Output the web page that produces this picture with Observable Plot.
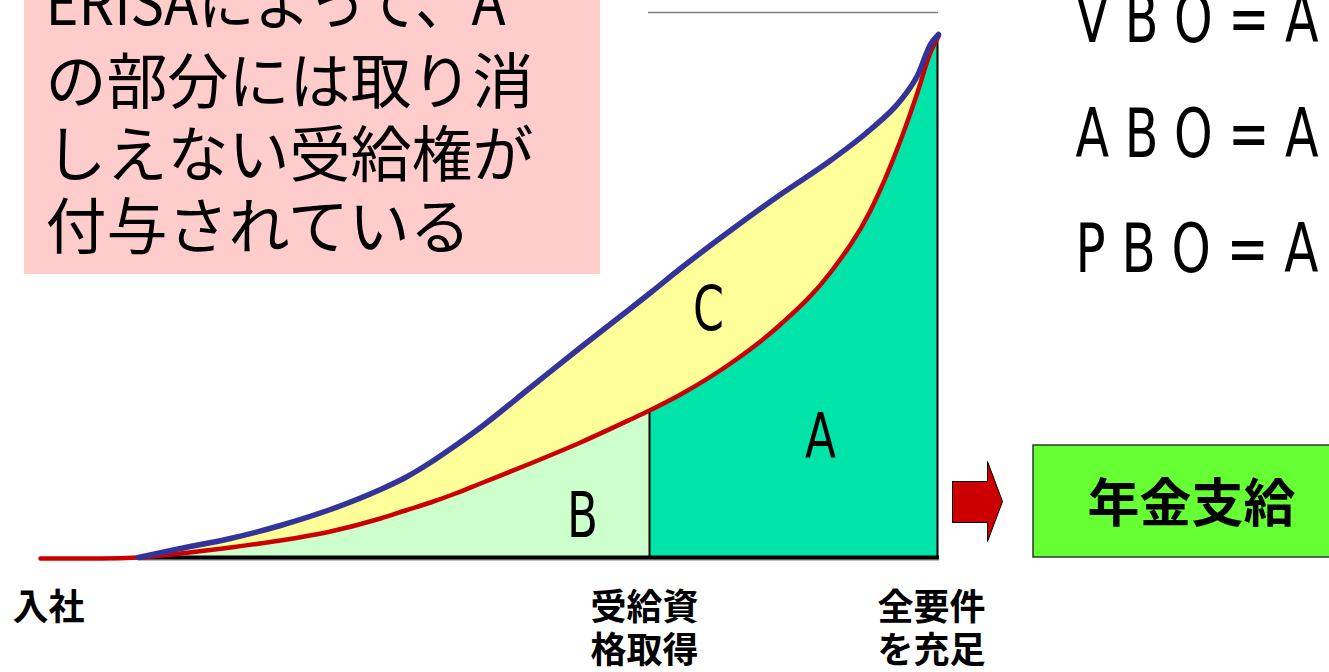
<!DOCTYPE html>
<html><head><meta charset="utf-8">
<script src="https://cdn.jsdelivr.net/npm/d3@7"></script>
<script src="https://cdn.jsdelivr.net/npm/@observablehq/plot@0.6"></script>
<style>html,body{margin:0;padding:0;background:#fff;overflow:hidden}</style>
</head><body><div id="chart"></div>
<script>
// Service timeline (horizontal position) and obligation curves (vertical position, measured downward on the page)
const serviceX = [138,180,230,280,330,380,405,430,455,480,530,580,630,649,680,730,780,830,870,900,917,930,938];
const pboY     = [557,548,538,525,509,489,477,462,445,427,387,347,308,293,268,230,194,160,129,100, 75, 44, 34];
const aboY     = [557,553,547,540,531,518,510,502,493,483,463,442,419,410,394,363,324,272,210,140, 92, 52, 36];
const baseline = 557;
const entryX = 40;        // 入社
const vestX = 649;        // 受給資格取得
const fullX = 937;        // 全要件を充足

const noteLines = ["ERISAによって、A", "の部分には取り消", "しえない受給権が", "付与されている"];
const noteLineY = [5, 84, 157, 229];
const formulas = ["V B O = A", "A B O = A", "P B O = A"];
const formulaY = [20, 135, 250];
const areaLabels = ["A", "B", "C"];
const areaLabelX = [820, 582, 708];
const areaLabelY = [438, 517, 310];
const axisLabels = ["入社", "受給資\n格取得", "全要件\nを充足"];
const axisLabelX = [12, 590, 877];
const payoutLabel = "年金支給";

const curve = serviceX.map((x, i) => ({x, pbo: pboY[i], abo: aboY[i], base: baseline}));
const aboLine = [{x: entryX, y: baseline + 1}, {x: 100, y: baseline + 1}, ...curve.map(d => ({x: d.x, y: d.abo}))];
const arrow = [[952,481],[987,481],[987,461],[1002,501],[987,541],[987,522],[952,522],[952,481]].map(([x,y]) => ({x,y}));

const jp = "'Noto Sans CJK JP', 'Noto Sans CJK SC', sans-serif";
const latin = "'DejaVu Sans', sans-serif";

const plot = Plot.plot({
  width: 1329, height: 672, margin: 0,
  x: {domain: [0, 1329], range: [0, 1329], axis: null},
  y: {domain: [0, 672], range: [0, 672], axis: null},
  marks: [
    Plot.rect([{}], {x1: 24, x2: 600, y1: -2, y2: 274, fill: "#ffcccc"}),
    Plot.text(noteLines, {x: 45, y: (d, i) => noteLineY[i], text: d => d, textAnchor: "start", lineAnchor: "middle", fontSize: 61, fontFamily: jp, fill: "#000"}),
    Plot.text(formulas, {x: 1075, y: (d, i) => formulaY[i], text: d => d, textAnchor: "start", lineAnchor: "middle", fontSize: 67, fontFamily: latin, fill: "#000"}),
    Plot.ruleY([12], {x1: 648, x2: 938, stroke: "#808080", strokeWidth: 1.5}),
    Plot.areaY(curve.filter(d => d.x <= vestX), {x: "x", y1: "base", y2: "abo", fill: "#ccffcc", curve: "monotone-x"}),
    Plot.areaY(curve.filter(d => d.x >= vestX), {x: "x", y1: "base", y2: "abo", fill: "#00e4aa", curve: "monotone-x"}),
    Plot.areaY(curve, {x: "x", y1: "abo", y2: "pbo", fill: "#ffff99", curve: "monotone-x"}),
    Plot.ruleX([{x: vestX, y1: baseline, y2: aboY[serviceX.indexOf(vestX)]}, {x: fullX, y1: baseline, y2: 36}], {x: "x", y1: "y1", y2: "y2", stroke: "#000", strokeWidth: 2}),
    Plot.ruleY([baseline + 2.5], {x1: 138, x2: 939, stroke: "#808080", strokeWidth: 1}),
    Plot.ruleY([baseline], {x1: 138, x2: 939, stroke: "#000", strokeWidth: 4}),
    Plot.ruleY([baseline + 1], {x1: entryX, x2: 140, stroke: "#000", strokeWidth: 1}),
    Plot.line(aboLine, {x: "x", y: "y", stroke: "#cc0000", strokeWidth: 4.5, curve: "monotone-x"}),
    Plot.line(curve, {x: "x", y: "pbo", stroke: "#333399", strokeWidth: 5.5, curve: "monotone-x", strokeLinecap: "round"}),
    Plot.text(areaLabels, {x: (d, i) => areaLabelX[i], y: (d, i) => areaLabelY[i], text: d => d, fontSize: 62, fontFamily: latin, lineAnchor: "middle", fill: "#000"}),
    Plot.text(axisLabels, {x: (d, i) => axisLabelX[i], y: 590, text: d => d, textAnchor: "start", lineAnchor: "top", fontSize: 36, lineHeight: 1.17, fontWeight: "bold", fontFamily: jp, fill: "#000"}),
    Plot.line(arrow, {x: "x", y: "y", fill: "#cc0000", stroke: "#000", strokeWidth: 1}),
    Plot.rect([{}], {x1: 1033, x2: 1345, y1: 445, y2: 557, fill: "#66ff33", stroke: "#333", strokeWidth: 1.5}),
    Plot.text([payoutLabel], {x: 1191, y: 505, text: d => d, fontSize: 52, fontWeight: "bold", fontFamily: jp, lineAnchor: "middle", fill: "#000"})
  ]
});
document.getElementById("chart").appendChild(plot);
// Narrow the Latin lettering so it matches the condensed face of the original
const texts = d3.select(plot).selectAll("text");
texts.filter(function(){ return formulas.includes(this.textContent); })
  .attr("textLength", 243).attr("lengthAdjust", "spacingAndGlyphs");
texts.filter(function(){ return areaLabels.includes(this.textContent); })
  .attr("textLength", 31).attr("lengthAdjust", "spacingAndGlyphs");
texts.filter(function(){ return this.textContent === noteLines[0]; })
  .attr("textLength", 460).attr("lengthAdjust", "spacingAndGlyphs");
</script>
</body></html>
